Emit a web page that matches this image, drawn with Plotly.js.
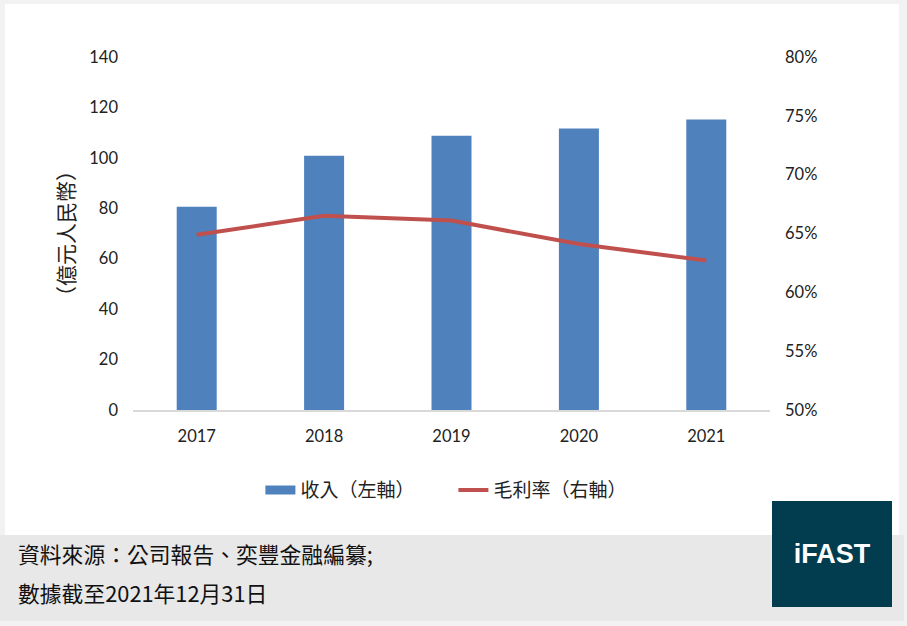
<!DOCTYPE html>
<html>
<head>
<meta charset="utf-8">
<script src="https://cdn.plot.ly/plotly-3.0.1.min.js"></script>
<style>
  html, body { margin: 0; padding: 0; }
  body { width: 907px; height: 626px; background: #f2f2f2; position: relative; overflow: hidden; }
  #panel { position: absolute; left: 5px; top: 4px; width: 894px; height: 531px; background: #ffffff; }
  #footer { position: absolute; left: 0; top: 535px; width: 904px; height: 86px; background: #e8e8e8; }
  .note { position: absolute; left: 18px; font-family: "Noto Sans CJK TC", sans-serif; font-size: 21.8px; color: #111; white-space: nowrap; }
  #logo { position: absolute; left: 772px; top: 501px; width: 120px; height: 106px; background: #023d4f;
          color: #fff; font-family: "Liberation Sans", Arial, sans-serif; font-weight: bold; font-size: 27px;
          display: flex; align-items: center; justify-content: center; }
  #chart { position: absolute; left: 0; top: 0; width: 907px; height: 626px; }
</style>
</head>
<body>
<div id="panel"></div>
<div id="footer">
  <div class="note" style="top:3px;">資料來源：公司報告、奕豐金融編纂;</div>
  <div class="note" style="top:42px;">數據截至2021年12月31日</div>
</div>
<div id="chart"></div>
<div id="logo">iFAST</div>
<script>
// 年份
let years = ['2017', '2018', '2019', '2020', '2021'];
// 收入 (億元人民幣), 左軸
let revenue = [80.6, 100.8, 108.8, 111.6, 115.2];
// 毛利率, 右軸
let gross_margin = [0.649, 0.665, 0.661, 0.641, 0.627];

let bar_color = '#4f81bd';
let line_color = '#c0504d';
let tick_font = {family: 'Lato, "Noto Sans CJK TC", sans-serif', size: 16.5, color: '#222'};
let cjk_font = {family: '"Noto Sans CJK TC", sans-serif', size: 19, color: '#222'};

let data = [
    {
        type: 'bar',
        name: '收入（左軸）',
        x: years,
        y: revenue,
        marker: {color: bar_color},
        showlegend: false,
        hoverinfo: 'x+y'
    },
    // legend entry only: Excel draws the bar key as a wide block
    {
        type: 'scatter',
        mode: 'lines',
        name: '收入（左軸）',
        x: [null],
        y: [null],
        line: {color: bar_color, width: 9},
        hoverinfo: 'skip'
    },
    {
        type: 'scatter',
        mode: 'lines',
        name: '毛利率（右軸）',
        x: years,
        y: gross_margin,
        yaxis: 'y2',
        line: {color: line_color, width: 4},
        hoverinfo: 'x+y'
    }
];

let layout = {
    width: 907,
    height: 626,
    margin: {l: 133, r: 137, t: 57, b: 216},
    paper_bgcolor: 'rgba(0,0,0,0)',
    plot_bgcolor: 'rgba(0,0,0,0)',
    bargap: 0.686,
    showlegend: true,
    legend: {
        orientation: 'h',
        x: 0.2, xanchor: 'left',
        y: -0.227, yanchor: 'middle',
        font: cjk_font,
        entrywidth: 148,
        entrywidthmode: 'pixels',
        tracegroupgap: 0,
        bgcolor: 'rgba(0,0,0,0)'
    },
    xaxis: {
        type: 'category',
        showline: true,
        linecolor: '#d9d9d9',
        linewidth: 2,
        showgrid: false,
        ticks: '',
        tickfont: tick_font,
        ticklabelstandoff: 10,
        fixedrange: true
    },
    yaxis: {
        range: [0, 140],
        dtick: 20,
        showgrid: false,
        zeroline: false,
        showline: false,
        ticks: '',
        tickfont: tick_font,
        ticklabelstandoff: 14,
        title: {
            text: '（億元人民幣）',
            font: {family: cjk_font.family, size: 21, color: '#222'},
            standoff: 8
        },
        fixedrange: true
    },
    yaxis2: {
        overlaying: 'y',
        side: 'right',
        range: [0.5, 0.8],
        dtick: 0.05,
        tickformat: '.0%',
        showgrid: false,
        zeroline: false,
        showline: false,
        ticks: '',
        tickfont: tick_font,
        ticklabelstandoff: 14,
        fixedrange: true
    }
};

Plotly.newPlot('chart', data, layout, {displayModeBar: false, staticPlot: true});
</script>
</body>
</html>
